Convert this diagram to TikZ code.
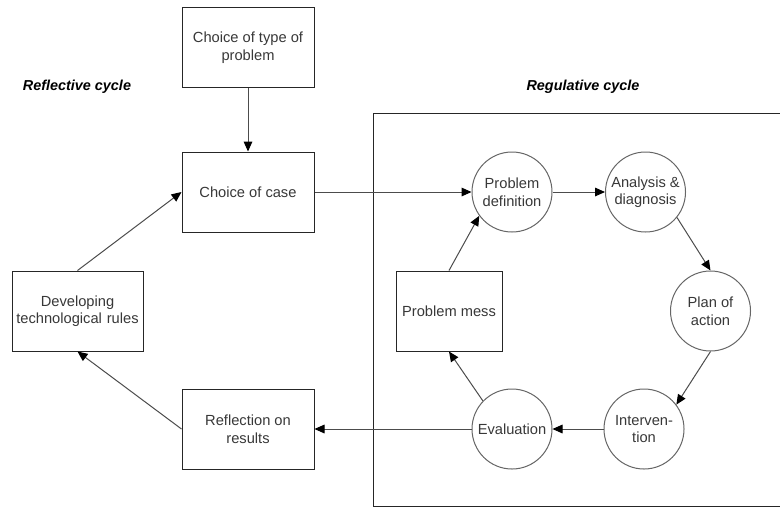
\documentclass[tikz,border=0pt]{standalone}
\usepackage{fontspec}
\setmainfont{Liberation Sans}
\usetikzlibrary{arrows.meta}

\begin{document}
\begin{tikzpicture}[
  x=0.75pt, y=-0.75pt,
  font=\fontsize{11pt}{13.2pt}\selectfont,
  every node/.style={text=black!78},
  stepbox/.style={draw=black!85, line width=0.75pt, fill=white,
    minimum width=99pt, minimum height=60pt, align=center, inner sep=1pt},
  phase/.style={draw=black!60, line width=0.75pt, fill=white, circle,
    minimum size=60pt, inner sep=0pt, align=center},
  flow/.style={draw=black!70, line width=0.75pt,
    -{Triangle[length=7.5pt,width=6.5pt,fill=black,color=black]}},
  cycletitle/.style={font=\fontsize{10.8pt}{13pt}\selectfont\bfseries\itshape, text=black}
]
\useasboundingbox (0,0) rectangle (780,508);

% frame around the regulative cycle (open to the right)
\draw[black!85, line width=0.75pt] (781,113) -- (373,113) -- (373,506) -- (781,506);

% titles
\node[cycletitle] (tRefl) at (77,87) {Reflective cycle};
\node[cycletitle] (tReg) at (583,87) {Regulative cycle};

% reflective cycle boxes
\node[stepbox] (typ)  at (248,47.5) {Choice of type of\\problem};
\node[stepbox] (case) at (248,192)  {Choice of case};
\node[stepbox, minimum width=98.25pt, text width=94pt] (dev) at (77.5,311) {Developing\\technological rules};
\node[stepbox] (refl) at (248,429)  {Reflection on\\results};

% regulative cycle
\node[stepbox, minimum width=79.5pt] (mess) at (449,311) {Problem mess};
\node[phase] (pdef) at (512,192)   {Problem\\definition};
\node[phase] (ana)  at (645.5,192) {Analysis \&\\diagnosis};
\node[phase] (plan) at (710.5,311) {Plan of\\action};
\node[phase] (int)  at (644,429)   {Interven-\\tion};
\node[phase] (eval) at (512,429)   {Evaluation};

% connectors
\draw[flow] (typ.south) -- (case.north);
\draw[flow] (case.east) -- (pdef.west);
\draw[flow] (pdef.east) -- (ana.west);
\draw[flow] (ana.-39) -- (plan.north);
\draw[flow] (plan.south) -- (int.37);
\draw[flow] (int.west) -- (eval.east);
\draw[flow] (eval.136) -- (mess.south);
\draw[flow] (mess.north) -- (pdef.216);
\draw[flow] (eval.west) -- (refl.east);
\draw[flow] (refl.west) -- (dev.south);
\draw[flow] (dev.north) -- (case.west);
\end{tikzpicture}
\end{document}
